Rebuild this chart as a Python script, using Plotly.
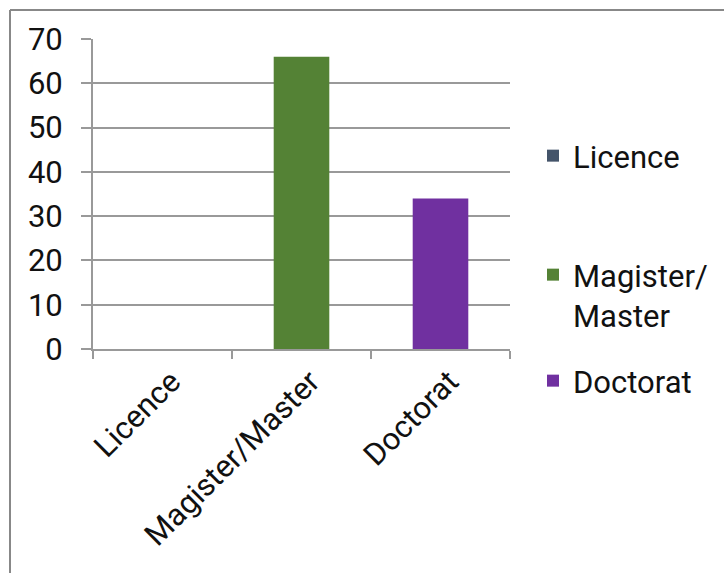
import plotly.graph_objects as go

categories = ["Licence", "Magister/Master", "Doctorat"]
legend_names = ["Licence", "Magister/<br>Master", "Doctorat"]
values = [0, 66, 34]
colors = ["#44546A", "#548235", "#7030A0"]
y_ticks = [0, 10, 20, 30, 40, 50, 60, 70]

L, R, T, B = 93, 214, 39, 224
W, H = 724, 573
pw, ph = W - L - R, H - T - B
FS = 31

legend_ids = ["legend", "legend2", "legend3"]
legend_centers_px = [156, 295, 381]

fig = go.Figure()
for cat, name, val, col, lid in zip(categories, legend_names, values, colors, legend_ids):
    fig.add_trace(go.Bar(
        x=[cat], y=[val], name=name, width=0.4,
        marker=dict(color=col, line=dict(width=0)),
        legend=lid,
    ))

legend_common = dict(xanchor="left", yanchor="middle", font=dict(size=FS),
                     itemwidth=30, bgcolor="rgba(0,0,0,0)", valign="top")
legends = {}
for lid, cy in zip(legend_ids, legend_centers_px):
    legends[lid] = dict(x=(533 - L) / pw, y=(H - B - cy) / ph, **legend_common)

fig.update_layout(
    width=W, height=H,
    margin=dict(l=L, r=R, t=T, b=B, autoexpand=False),
    paper_bgcolor="white", plot_bgcolor="white",
    barmode="overlay",
    font=dict(family="Roboto", size=FS, color="#111111"),
    showlegend=True,
    **legends,
    xaxis=dict(
        categoryorder="array", categoryarray=categories,
        tickangle=-45, tickson="boundaries", ticks="outside", ticklen=8,
        tickcolor="#999999", tickwidth=2,
        showline=True, linecolor="#999999", linewidth=2,
        showgrid=False, tickfont=dict(size=FS), ticklabelshift=9,
    ),
    yaxis=dict(
        range=[0, 70], tickvals=y_ticks, ticks="outside", ticklen=10,
        tickcolor="#999999", tickwidth=2,
        showline=True, linecolor="#999999", linewidth=2,
        showgrid=True, gridcolor="#999999", gridwidth=2, zeroline=False,
        tickfont=dict(size=FS), ticklabelstandoff=12,
    ),
    shapes=[
        dict(type="line", xref="paper", yref="paper",
             x0=(10 - L) / pw, x1=(W + 5 - L) / pw, y0=(H - B - 10) / ph, y1=(H - B - 10) / ph,
             line=dict(color="#888888", width=2)),
        dict(type="line", xref="paper", yref="paper",
             x0=(10 - L) / pw, x1=(10 - L) / pw, y0=(H - B - 10) / ph, y1=-(B + 5) / ph,
             line=dict(color="#888888", width=2)),
    ],
)
fig.write_html("out.html")
